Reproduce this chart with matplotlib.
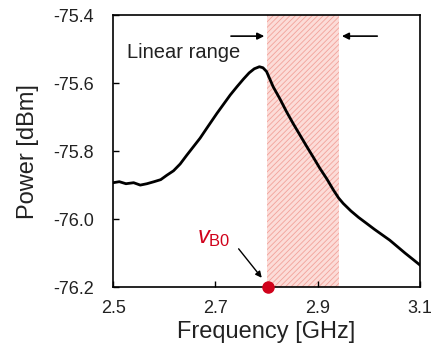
import numpy as np
import matplotlib.pyplot as plt

plt.rcParams['font.family'] = ['Liberation Sans', 'DejaVu Sans']
plt.rcParams['hatch.linewidth'] = 0.6
plt.rcParams['mathtext.fontset'] = 'custom'
plt.rcParams['mathtext.it'] = 'Liberation Sans:italic'
plt.rcParams['mathtext.rm'] = 'Liberation Sans'

# spectrum
freq = [2.500, 2.512, 2.525, 2.540, 2.553, 2.566, 2.580, 2.593, 2.605, 2.618,
        2.631, 2.644, 2.657, 2.670, 2.683, 2.703, 2.716, 2.729, 2.742, 2.755,
        2.766, 2.776, 2.786, 2.793, 2.800, 2.813, 2.826, 2.839, 2.852, 2.865,
        2.878, 2.891, 2.904, 2.918, 2.931, 2.941, 2.950, 2.965, 2.980, 2.996,
        3.011, 3.026, 3.041, 3.056, 3.071, 3.086, 3.100]
power = [-75.893, -75.890, -75.896, -75.893, -75.900, -75.896, -75.890, -75.884, -75.871, -75.858,
         -75.838, -75.812, -75.787, -75.762, -75.733, -75.689, -75.662, -75.635, -75.611, -75.588,
         -75.570, -75.558, -75.552, -75.555, -75.566, -75.611, -75.646, -75.684, -75.719, -75.752,
         -75.785, -75.817, -75.850, -75.882, -75.915, -75.938, -75.954, -75.976, -75.995, -76.013,
         -76.030, -76.046, -76.062, -76.081, -76.100, -76.118, -76.135]

linear_range = (2.801, 2.942)
nu_b0 = 2.803
txt = '#222222'

fig, ax = plt.subplots(figsize=(4.32, 3.58), dpi=100)
fig.subplots_adjust(left=0.262, right=0.972, top=0.958, bottom=0.198)

ax.axvspan(*linear_range, facecolor='#fcdcd8', edgecolor='#f2a29a',
           hatch='//////', linewidth=0, zorder=1)
ax.plot(freq, power, color='black', lw=2.0, zorder=3)
ax.plot([nu_b0], [-76.2], 'o', color='#d0021b', ms=8, clip_on=False, zorder=5)

ax.text(2.528, -75.509, 'Linear range', fontsize=14.5, va='center', ha='left', color=txt)
ax.annotate('', xy=(linear_range[0], -75.462), xytext=(2.725, -75.462),
            arrowprops=dict(arrowstyle='-|>', color='black', lw=1.2, mutation_scale=10))
ax.annotate('', xy=(linear_range[1], -75.462), xytext=(3.022, -75.462),
            arrowprops=dict(arrowstyle='-|>', color='black', lw=1.2, mutation_scale=10))

ax.text(2.664, -76.055, r'$\mathit{v}_{\mathrm{B0}}$', color='#d0021b', fontsize=17,
        va='center', ha='left')
ax.annotate('', xy=(2.794, -76.179), xytext=(2.742, -76.081),
            arrowprops=dict(arrowstyle='-|>', color='black', lw=1.0, mutation_scale=9))

ax.set_xlim(2.5, 3.1)
ax.set_ylim(-76.2, -75.4)
ax.set_xticks([2.5, 2.7, 2.9, 3.1])
ax.set_xticklabels(['2.5', '2.7', '2.9', '3.1'])
ax.set_yticks([-76.2, -76.0, -75.8, -75.6, -75.4])
ax.set_yticklabels(['-76.2', '-76.0', '-75.8', '-75.6', '-75.4'])
ax.tick_params(direction='in', length=4, width=1, labelsize=13, labelcolor=txt)
ax.tick_params(axis='y', pad=14)
ax.tick_params(axis='x', pad=9)
for s in ax.spines.values():
    s.set_linewidth(1.2)

ax.set_xlabel('Frequency [GHz]', fontsize=17, labelpad=3, color=txt)
ax.set_ylabel('Power [dBm]', fontsize=17, labelpad=10, color=txt)

fig.savefig('out.png', dpi=100)
